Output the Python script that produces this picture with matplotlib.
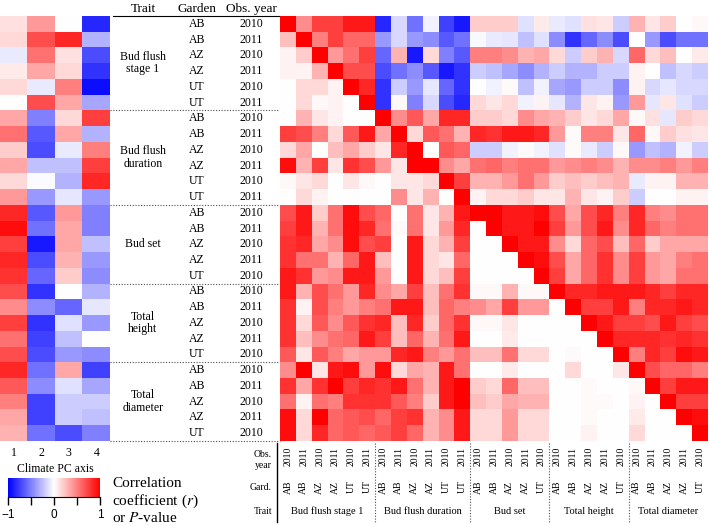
import matplotlib
matplotlib.use("Agg")
import matplotlib.pyplot as plt
import numpy as np

plt.rcParams['font.family'] = 'Liberation Serif'
plt.rcParams['mathtext.fontset'] = 'stix'

# ---- data ----
trait_names = ['Bud flush\nstage 1', 'Bud flush\nduration', 'Bud set', 'Total\nheight', 'Total\ndiameter']
trait_short = ['Bud flush stage 1', 'Bud flush duration', 'Bud set', 'Total height', 'Total diameter']
group_sizes = [6, 6, 5, 5, 5]
gardens = ['AB', 'AB', 'AZ', 'AZ', 'UT', 'UT',
           'AB', 'AB', 'AZ', 'AZ', 'UT', 'UT',
           'AB', 'AB', 'AZ', 'AZ', 'UT',
           'AB', 'AB', 'AZ', 'AZ', 'UT',
           'AB', 'AB', 'AZ', 'AZ', 'UT']
years = ['2010', '2011', '2010', '2011', '2010', '2011',
         '2010', '2011', '2010', '2011', '2010', '2011',
         '2010', '2011', '2010', '2011', '2010',
         '2010', '2011', '2010', '2011', '2010',
         '2010', '2011', '2010', '2011', '2010']
pc_axes = ['1', '2', '3', '4']

# correlation of each trait with climate PC axes 1-4
pc_corr = [
    [0.12, 0.40, 0.00, -0.85],
    [0.15, 0.70, 0.85, -0.30],
    [-0.08, 0.55, 0.12, -0.70],
    [0.08, 0.35, 0.15, -0.80],
    [0.15, -0.08, 0.50, -0.95],
    [0.00, 0.70, 0.35, -0.35],
    [0.35, -0.50, 0.15, 0.75],
    [0.55, -0.65, 0.35, -0.30],
    [0.20, -0.70, -0.08, 0.50],
    [0.35, -0.25, -0.25, 0.75],
    [0.15, -0.02, -0.30, 0.85],
    [0.40, -0.40, -0.10, -0.40],
    [0.85, -0.65, 0.40, -0.50],
    [0.95, -0.55, 0.35, -0.50],
    [0.75, -0.90, 0.35, -0.25],
    [0.85, -0.70, 0.30, -0.40],
    [0.80, -0.60, 0.20, -0.45],
    [0.70, -0.80, 0.00, -0.30],
    [0.45, -0.45, -0.60, -0.10],
    [0.75, -0.80, -0.12, -0.40],
    [0.55, -0.75, -0.25, 0.00],
    [0.70, -0.70, -0.40, -0.45],
    [0.85, -0.55, 0.35, -0.75],
    [0.65, -0.45, -0.12, -0.35],
    [0.50, -0.75, -0.20, -0.20],
    [0.35, -0.75, -0.20, -0.25],
    [0.30, -0.55, -0.70, -0.50],
]

# trait x trait matrix: upper triangle r, lower triangle P-value shading
trait_corr = [
    [1.0, 0.45, 0.75, 0.75, 0.9, 0.9, -0.85, -0.15, -0.55, -0.05, -0.75, -0.9, 0.2, 0.2, 0.2, -0.12, 0.08, -0.08, -0.12, 0.12, 0.1, -0.2, 0.3, 0.1, 0.2, 0.0, 0.03],
    [0.25, 1.0, 0.5, 0.75, 0.6, 0.6, -0.4, -0.15, -0.4, -0.45, -0.65, -0.55, -0.03, -0.08, -0.1, -0.25, -0.12, -0.45, -0.8, -0.6, -0.45, -0.7, 0.0, -0.4, -0.7, -0.55, -0.55],
    [0.05, 0.2, 1.0, 0.4, 0.55, 0.75, -0.6, 0.3, -0.9, 0.15, -0.5, -0.65, 0.5, 0.5, 0.45, 0.3, 0.35, 0.15, -0.2, 0.2, 0.3, -0.15, 0.6, 0.15, 0.25, 0.0, 0.08],
    [0.05, 0.05, 0.3, 1.0, 0.7, 0.7, -0.7, -0.55, -0.45, -0.65, -0.9, -0.8, -0.2, -0.25, -0.35, -0.45, -0.3, -0.2, -0.3, -0.3, -0.2, -0.2, 0.05, 0.0, -0.25, -0.15, -0.2],
    [0.0, 0.15, 0.15, 0.05, 1.0, 0.85, -0.8, -0.2, -0.4, -0.1, -0.6, -0.8, 0.0, -0.05, 0.02, -0.25, -0.05, -0.35, -0.4, -0.2, -0.2, -0.45, 0.05, -0.15, -0.1, -0.15, -0.15],
    [0.0, 0.15, 0.03, 0.05, 0.0, 1.0, -0.8, 0.03, -0.5, -0.15, -0.7, -0.85, 0.15, 0.1, 0.15, -0.05, 0.05, -0.1, -0.3, 0.1, 0.05, -0.4, 0.4, -0.1, 0.1, -0.12, -0.2],
    [0.0, 0.3, 0.1, 0.05, 0.0, 0.0, 1.0, 0.45, 0.65, 0.35, 0.85, 0.85, 0.2, 0.2, 0.15, 0.45, 0.35, 0.3, 0.2, 0.1, 0.15, 0.35, 0.03, 0.12, -0.1, 0.2, 0.15],
    [0.75, 0.7, 0.5, 0.15, 0.65, 0.9, 0.35, 1.0, 0.15, 0.65, 0.55, 0.3, 0.85, 0.8, 0.9, 0.9, 0.85, 0.4, 0.02, 0.5, 0.5, 0.1, 0.6, 0.03, 0.2, 0.12, 0.1],
    [0.15, 0.35, 0.0, 0.25, 0.35, 0.2, 0.1, 0.85, 1.0, 0.0, 0.65, 0.6, -0.2, -0.2, -0.05, 0.02, -0.05, -0.12, 0.02, -0.08, -0.2, 0.03, -0.4, -0.25, -0.3, -0.05, -0.2],
    [0.95, 0.3, 0.75, 0.1, 0.8, 0.7, 0.4, 0.1, 1.0, 1.0, 0.45, 0.35, 0.55, 0.6, 0.5, 0.55, 0.55, 0.4, 0.45, 0.5, 0.45, 0.3, 0.45, 0.45, 0.5, 0.4, 0.5],
    [0.03, 0.1, 0.15, 0.0, 0.1, 0.03, 0.0, 0.1, 0.1, 0.15, 1.0, 0.75, 0.3, 0.3, 0.4, 0.55, 0.4, 0.2, 0.25, 0.2, 0.25, 0.3, -0.08, 0.05, 0.05, 0.3, 0.3],
    [0.0, 0.15, 0.05, 0.0, 0.0, 0.0, 0.0, 0.45, 0.1, 0.3, 0.0, 1.0, 0.05, 0.15, 0.15, 0.2, 0.1, 0.1, 0.3, 0.1, 0.05, 0.2, -0.2, 0.0, 0.0, 0.05, 0.05],
    [0.7, 0.9, 0.2, 0.55, 0.95, 0.7, 0.6, 0.0, 0.55, 0.1, 0.3, 0.9, 1.0, 1.0, 0.9, 0.9, 0.95, 0.7, 0.35, 0.7, 0.85, 0.5, 0.85, 0.5, 0.45, 0.55, 0.55],
    [0.75, 0.9, 0.3, 0.55, 0.95, 0.85, 0.55, 0.02, 0.55, 0.1, 0.4, 0.85, 0.0, 1.0, 0.9, 0.9, 1.0, 0.75, 0.4, 0.7, 0.9, 0.45, 0.85, 0.6, 0.5, 0.55, 0.55],
    [0.8, 0.85, 0.35, 0.45, 0.95, 0.7, 0.75, 0.0, 0.9, 0.15, 0.3, 0.75, 0.0, 0.0, 1.0, 0.9, 0.9, 0.45, 0.15, 0.6, 0.7, 0.25, 0.6, 0.2, 0.35, 0.35, 0.35],
    [0.8, 0.55, 0.55, 0.3, 0.6, 0.9, 0.25, 0.0, 0.9, 0.15, 0.1, 0.6, 0.0, 0.0, 0.0, 1.0, 0.95, 0.7, 0.35, 0.6, 0.8, 0.45, 0.75, 0.4, 0.35, 0.5, 0.55],
    [0.9, 0.8, 0.4, 0.45, 0.9, 0.9, 0.4, 0.0, 0.9, 0.15, 0.25, 0.75, 0.0, 0.0, 0.0, 0.0, 1.0, 0.75, 0.35, 0.6, 0.8, 0.45, 0.75, 0.4, 0.35, 0.55, 0.55],
    [0.9, 0.3, 0.7, 0.55, 0.4, 0.85, 0.45, 0.35, 0.75, 0.25, 0.55, 0.8, 0.03, 0.03, 0.3, 0.03, 0.03, 1.0, 0.85, 0.85, 0.9, 0.9, 0.9, 0.85, 0.75, 0.85, 0.85],
    [0.8, 0.05, 0.7, 0.5, 0.4, 0.5, 0.55, 0.9, 0.9, 0.25, 0.6, 0.5, 0.45, 0.35, 0.75, 0.4, 0.4, 0.0, 1.0, 0.75, 0.75, 0.9, 0.5, 0.85, 0.85, 0.9, 0.85],
    [0.8, 0.15, 0.65, 0.45, 0.65, 0.8, 0.85, 0.25, 0.85, 0.2, 0.6, 0.8, 0.03, 0.03, 0.1, 0.0, 0.0, 0.0, 0.0, 1.0, 0.9, 0.75, 0.75, 0.7, 0.9, 0.75, 0.7],
    [0.8, 0.25, 0.45, 0.55, 0.6, 0.9, 0.75, 0.25, 0.6, 0.3, 0.55, 0.9, 0.0, 0.0, 0.08, 0.0, 0.0, 0.0, 0.0, 0.0, 1.0, 0.85, 0.85, 0.85, 0.8, 0.85, 0.8],
    [0.65, 0.1, 0.65, 0.5, 0.35, 0.4, 0.4, 0.85, 0.9, 0.5, 0.4, 0.55, 0.25, 0.25, 0.55, 0.15, 0.15, 0.0, 0.02, 0.0, 0.0, 1.0, 0.5, 0.85, 0.75, 0.95, 0.9],
    [0.45, 1.0, 0.1, 0.9, 0.95, 0.4, 0.95, 0.15, 0.35, 0.3, 0.9, 0.55, 0.0, 0.0, 0.08, 0.0, 0.0, 0.0, 0.15, 0.0, 0.0, 0.1, 1.0, 0.7, 0.6, 0.6, 0.5],
    [0.8, 0.35, 0.8, 1.0, 0.75, 0.85, 0.8, 0.9, 0.55, 0.3, 0.9, 1.0, 0.2, 0.15, 0.6, 0.25, 0.25, 0.0, 0.0, 0.02, 0.0, 0.0, 0.03, 1.0, 0.75, 0.9, 0.9],
    [0.55, 0.05, 0.55, 0.5, 0.8, 0.8, 0.8, 0.65, 0.5, 0.2, 0.9, 1.0, 0.25, 0.2, 0.35, 0.3, 0.3, 0.0, 0.0, 0.02, 0.02, 0.0, 0.05, 0.0, 1.0, 0.75, 0.75],
    [0.95, 0.15, 1.0, 0.6, 0.65, 0.7, 0.6, 0.75, 0.8, 0.3, 0.45, 0.9, 0.15, 0.15, 0.4, 0.15, 0.15, 0.0, 0.0, 0.02, 0.0, 0.0, 0.08, 0.0, 0.0, 1.0, 0.95],
    [0.95, 0.15, 0.85, 0.6, 0.65, 0.6, 0.65, 0.75, 0.6, 0.3, 0.45, 0.9, 0.15, 0.15, 0.4, 0.15, 0.15, 0.0, 0.0, 0.05, 0.0, 0.0, 0.15, 0.0, 0.0, 0.0, 1.0],
]

# ---- layout (pixels) ----
W, H = 709, 526
top, bot = 16, 441
pc_l, pc_r = 0, 110
mat_l, mat_r = 280, 708
n = len(years)
rh = (bot - top) / n
cw = (mat_r - mat_l) / n
bounds = np.cumsum([0] + group_sizes)

fig = plt.figure(figsize=(W / 100, H / 100), dpi=100)

# full-figure axes in pixel coordinates for the label table
ann = fig.add_axes([0, 0, 1, 1])
ann.set_xlim(0, W)
ann.set_ylim(H, 0)
ann.axis('off')

# climate PC heatmap
ax_pc = fig.add_axes([pc_l / W, 1 - bot / H, (pc_r - pc_l) / W, (bot - top) / H])
ax_pc.imshow(np.array(pc_corr), cmap='bwr', vmin=-1, vmax=1, aspect='auto',
             interpolation='nearest')
ax_pc.set_xticks(range(4))
ax_pc.set_xticklabels(pc_axes, fontsize=8.5)
ax_pc.set_yticks([])
ax_pc.tick_params(axis='x', length=0, pad=4)
ax_pc.set_xlabel('Climate PC axis', fontsize=8.5, labelpad=3)
for s in ax_pc.spines.values():
    s.set_visible(False)

# trait correlation matrix
ax_m = fig.add_axes([mat_l / W, 1 - bot / H, (mat_r - mat_l) / W, (bot - top) / H])
ax_m.imshow(np.array(trait_corr), cmap='bwr', vmin=-1, vmax=1, aspect='auto',
            interpolation='nearest')
ax_m.set_xticks(range(n))
ax_m.set_xticklabels(years, rotation=90, fontsize=7)
ax_m.set_yticks([])
ax_m.tick_params(axis='x', length=0, pad=4)
for s in ax_m.spines.values():
    s.set_visible(False)

# label table left of the matrix
ann.text(143, 12, 'Trait', ha='center', va='baseline', fontsize=9.5)
ann.text(197, 12, 'Garden', ha='center', va='baseline', fontsize=9.5)
ann.text(251, 12, 'Obs. year', ha='center', va='baseline', fontsize=9.5)
ann.plot([113, 280], [15.5, 15.5], color='k', lw=0.8)
for i in range(n):
    yc = top + (i + 0.5) * rh
    ann.text(197, yc, gardens[i], ha='center', va='center', fontsize=8.5)
    ann.text(251, yc, years[i], ha='center', va='center', fontsize=8.5)
for g, name in enumerate(trait_names):
    yc = top + (bounds[g] + bounds[g + 1]) / 2 * rh
    ann.text(143, yc, name, ha='center', va='center', fontsize=8.5, linespacing=1.05)
for b in bounds[1:]:
    y = top + b * rh
    ann.plot([110, 280], [y, y], color='0.3', lw=0.8, ls=(0, (1, 1.5)))

# labels under the matrix
for j in range(n):
    xc = mat_l + (j + 0.5) * cw
    ann.text(xc, 487, gardens[j], rotation=90, ha='center', va='center', fontsize=7)
for g, name in enumerate(trait_short):
    xc = mat_l + (bounds[g] + bounds[g + 1]) / 2 * cw
    ann.text(xc, 511, name, ha='center', va='center', fontsize=7.5)
for b in bounds[1:-1]:
    x = mat_l + b * cw
    ann.plot([x, x], [443, 523], color='0.3', lw=0.8, ls=(0, (1, 1.5)))
ann.plot([277, 277], [443, 522], color='k', lw=1)
ann.text(272, 460, 'Obs.\nyear', ha='right', va='center', fontsize=7, linespacing=1.3)
ann.text(272, 488, 'Gard.', ha='right', va='center', fontsize=7)
ann.text(272, 512, 'Trait', ha='right', va='center', fontsize=7)

# colour bar
cax = fig.add_axes([8 / W, 1 - 497 / H, 92 / W, 19 / H])
sm = plt.cm.ScalarMappable(cmap='bwr', norm=plt.Normalize(-1, 1))
cb = fig.colorbar(sm, cax=cax, orientation='horizontal', ticks=[-1, -0.5, 0, 0.5, 1])
cb.set_ticklabels(['\u22121', '', '0', '', '1'])
cb.outline.set_visible(False)
cax.spines['bottom'].set_visible(True)
cax.tick_params(length=6, width=1, direction='out', labelsize=8.5, pad=3)
for lbl in cax.get_xticklabels():
    lbl.set_family('Liberation Sans')

ann.text(112, 487, 'Correlation', fontsize=11, va='baseline')
ann.text(112, 505, 'coefficient ($r$)', fontsize=11, va='baseline')
ann.text(112, 522, 'or $P$-value', fontsize=11, va='baseline')

fig.savefig('out.png', dpi=100)
